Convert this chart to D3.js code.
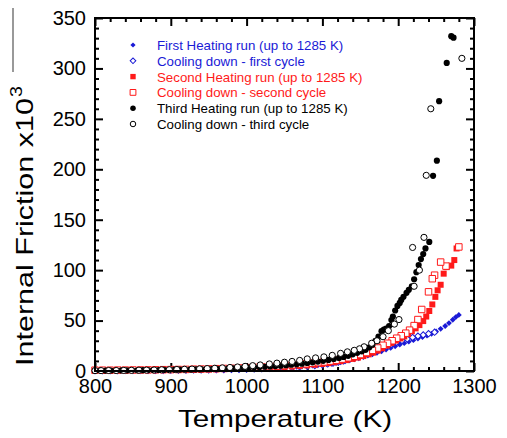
<!DOCTYPE html>
<html>
<head>
<meta charset="utf-8">
<script src="https://cdn.jsdelivr.net/npm/d3@7"></script>
<style>
  body { margin: 0; background: #fff; }
  svg { display: block; }
</style>
</head>
<body>
<svg id="chart" width="507" height="438"></svg>
<script>

// [temperature K, internal friction x10^3]
var heat1 = [[800,0.2],[807,0.3],[814,0.3],[821,0.4],[828,0.4],[835,0.5],[842,0.5],[849,0.6],[856,0.6],[863,0.7],[870,0.7],[877,0.8],[884,0.8],[891,0.9],[898,0.9],[905,1.0],[912,1.0],[919,1.1],[926,1.1],[933,1.2],[940,1.3],[947,1.3],[954,1.4],[961,1.5],[968,1.6],[975,1.7],[982,1.8],[989,1.9],[996,2.0],[1003,2.2],[1010,2.3],[1017,2.5],[1024,2.7],[1031,2.9],[1038,3.1],[1045,3.3],[1052,3.6],[1059,3.9],[1066,4.2],[1073,4.5],[1080,4.9],[1087,5.3],[1094,5.7],[1100,6.1],[1106,6.6],[1112,7.2],[1118,7.9],[1124,8.7],[1130,9.5],[1136,10.5],[1142,11.6],[1148,12.6],[1154,13.8],[1160,15.2],[1166,16.6],[1172,18.1],[1178,19.6],[1184,21.2],[1190,22.9],[1196,24.5],[1202,26.1],[1208,27.6],[1214,29.1],[1220,30.6],[1226,32.1],[1232,33.6],[1238,35.2],[1244,36.9],[1250,39.2],[1256,41.8],[1262,44.6],[1267,47.5],[1272,50.8],[1276,53.5],[1280,55.6]];

var cool1 = [[1248,38.5],[1240,37],[1233,35.8],[1226,34.6],[1219,33.3],[1212,31.8],[1205,30.2],[1198,28.4],[1191,26.5],[1184,24.4],[1177,22.3],[1170,20.2],[1163,18.2],[1156,16.3],[1149,14.5],[1142,12.9],[1135,11.4],[1128,10.1],[1121,8.9],[1114,7.9],[1107,7.0],[1100,6.2],[1090,5.4],[1080,4.8],[1070,4.2],[1060,3.7],[1050,3.3],[1040,2.9],[1030,2.6],[1020,2.3],[1010,2.1],[1000,1.9],[990,1.7],[980,1.5],[970,1.4],[960,1.3],[950,1.2],[940,1.1],[930,1.0],[920,0.9],[910,0.9],[900,0.8],[890,0.7],[880,0.7],[870,0.6],[860,0.6],[850,0.5],[840,0.5],[830,0.4],[820,0.4],[810,0.3],[800,0.3]];

var heat2 = [[800,0.8],[810,0.8],[820,0.9],[830,0.9],[840,1.0],[850,1.0],[860,1.1],[870,1.1],[880,1.2],[890,1.3],[900,1.3],[910,1.4],[920,1.5],[930,1.6],[940,1.7],[950,1.8],[960,1.9],[970,2.0],[980,2.2],[990,2.4],[1000,2.6],[1010,2.8],[1020,3.0],[1030,3.3],[1040,3.6],[1050,4.0],[1060,4.4],[1070,4.9],[1080,5.5],[1090,6.2],[1100,7.0],[1108,7.8],[1116,8.7],[1124,9.7],[1132,10.8],[1140,12.0],[1147,13.3],[1154,14.8],[1161,16.5],[1167,18.2],[1173,20.2],[1179,22.5],[1185,25.2],[1191,27.8],[1197,30.2],[1203,32.3],[1208,34.3],[1213,36.6],[1218,39.4],[1223,42.3],[1228,45.5],[1233,49.5],[1237,54],[1241,59.5],[1245,66],[1249,73.5],[1252,80],[1256,85.5],[1260,96.5],[1264,103],[1270,104.5],[1274,110],[1277,121.5]];

var cool2 = [[1280,123],[1263,104],[1256,108],[1248,95],[1245,91.5],[1240,78.5],[1231,61],[1226,51],[1221,45],[1215,40.5],[1210,37.5],[1204,35],[1198,32.5],[1192,30],[1186,27.5],[1180,25.5],[1173,22.8],[1166,20.5],[1158,18.3],[1150,16.3],[1142,14.6],[1134,13.1],[1126,11.8],[1118,10.7],[1110,9.8],[1102,9.0],[1094,8.3],[1086,7.7],[1078,7.1],[1070,6.6],[1060,6.0],[1050,5.4],[1040,4.9],[1030,4.4],[1020,4.0],[1010,3.6],[1000,3.3],[990,3.0],[980,2.7],[970,2.5],[960,2.3],[950,2.1],[940,1.9],[930,1.8],[920,1.6],[910,1.5],[900,1.4],[890,1.3],[880,1.2],[870,1.1],[860,1.0],[850,1.0],[840,0.9],[830,0.9],[820,0.8],[810,0.8],[800,0.8]];

var heat3 = [[800,0.3],[807,0.4],[814,0.4],[821,0.5],[828,0.5],[835,0.6],[842,0.6],[849,0.7],[856,0.7],[863,0.8],[870,0.9],[877,0.9],[884,1.0],[891,1.1],[898,1.2],[905,1.3],[912,1.4],[919,1.5],[926,1.6],[933,1.7],[940,1.8],[947,1.9],[954,2.0],[961,2.2],[968,2.3],[975,2.5],[982,2.7],[989,2.9],[996,3.1],[1003,3.3],[1010,3.6],[1017,3.9],[1024,4.2],[1031,4.5],[1038,4.9],[1045,5.3],[1052,5.7],[1059,6.2],[1066,6.7],[1073,7.3],[1080,7.9],[1087,8.6],[1094,9.3],[1101,10.1],[1108,11.0],[1115,12.0],[1122,13.0],[1128,14.0],[1134,15.0],[1140,16.5],[1146,18.0],[1152,19.5],[1157,21.0],[1162,23.5],[1166,26.0],[1170,30.0],[1174,34.0],[1178,39.5],[1181,41.0],[1184,42.0],[1188,44.5],[1191,50.5],[1193,54.0],[1196,60.0],[1199,64.5],[1202,67.5],[1204,70.5],[1207,73.5],[1211,77.5],[1214,80.5],[1218,84],[1221,91],[1224,98],[1227,105],[1230,111],[1233,116],[1236,121.5],[1241,128],[1246,193.5],[1251,208.5],[1254,267.5],[1264,305.5],[1270,332],[1273,330.5]];

var cool3 = [[1284,310],[1243,260],[1237,194],[1234,132.5],[1228,100],[1221,84],[1219,122.5],[1201,51],[1195,46.5],[1187,40],[1180,34],[1172,30],[1165,27.5],[1155,24],[1149,22],[1142,20.5],[1133,19],[1124,17.5],[1113,15.5],[1102,14],[1091,13],[1080,12],[1070,10.5],[1060,9.5],[1050,8.7],[1040,7.8],[1030,7.0],[1018,6.0],[1008,5.3],[998,4.6],[988,4.0],[978,3.5],[968,3.1],[958,2.7],[948,2.4],[938,2.1],[928,1.9],[918,1.7],[908,1.5],[898,1.3],[888,1.2],[878,1.0],[868,0.9],[858,0.8],[848,0.7],[838,0.6],[828,0.5],[818,0.5],[808,0.4],[800,0.4]];

var legendLabels = [
  "First Heating run (up to 1285 K)",
  "Cooling down - first cycle",
  "Second Heating run (up to 1285 K)",
  "Cooling down - second cycle",
  "Third Heating run (up to 1285 K)",
  "Cooling down - third cycle"
];

var xTicks = [800, 900, 1000, 1100, 1200, 1300];
var yTicks = [0, 50, 100, 150, 200, 250, 300, 350];

var blue = "#1a1ad6";
var red = "#ff1a1a";
var font = "Arial, 'Liberation Sans', sans-serif";

// diamonds are squares turned by 45 degrees
var series = [
  { data: heat1, shape: d3.symbolSquare, size: 17, rot: 45, color: blue, filled: true },
  { data: cool1, shape: d3.symbolSquare, size: 20, rot: 45, color: blue, filled: false },
  { data: heat2, shape: d3.symbolSquare, size: 36, rot: 0, color: red, filled: true },
  { data: cool2, shape: d3.symbolSquare, size: 42, rot: 0, color: red, filled: false },
  { data: heat3, shape: d3.symbolCircle, size: 30, rot: 0, color: "#000", filled: true },
  { data: cool3, shape: d3.symbolCircle, size: 30, rot: 0, color: "#000", filled: false }
];

var plotLeft = 95, plotRight = 474, plotTop = 18, plotBottom = 371;

var svg = d3.select("#chart");

var x = d3.scaleLinear().domain([800, 1300]).range([plotLeft, plotRight]);
var y = d3.scaleLinear().domain([0, 350]).range([plotBottom, plotTop]);

var minorX = d3.range(800, 1301, 20).filter(d => d % 100 != 0);
var minorY = d3.range(0, 351, 10).filter(d => d % 50 != 0);

function styleAxis(g) {
  g.select(".domain").remove();
  g.selectAll(".tick line").attr("stroke", "#000").attr("stroke-width", 2);
  g.selectAll(".tick text")
    .attr("fill", "#000")
    .style("font-family", font)
    .style("font-size", "20px");
}

// bottom
svg.append("g").attr("transform", `translate(0,${plotBottom})`)
  .call(d3.axisBottom(x).tickValues(xTicks).tickSize(-8).tickPadding(8).tickFormat(d3.format("d")))
  .call(styleAxis);
svg.append("g").attr("transform", `translate(0,${plotBottom})`)
  .call(d3.axisBottom(x).tickValues(minorX).tickSize(-4).tickFormat(""))
  .call(styleAxis);
// top
svg.append("g").attr("transform", `translate(0,${plotTop})`)
  .call(d3.axisTop(x).tickValues(xTicks).tickSize(-8).tickFormat(""))
  .call(styleAxis);
svg.append("g").attr("transform", `translate(0,${plotTop})`)
  .call(d3.axisTop(x).tickValues(minorX).tickSize(-4).tickFormat(""))
  .call(styleAxis);
// left
svg.append("g").attr("transform", `translate(${plotLeft},0)`)
  .call(d3.axisLeft(y).tickValues(yTicks).tickSize(-8).tickPadding(9))
  .call(styleAxis);
svg.append("g").attr("transform", `translate(${plotLeft},0)`)
  .call(d3.axisLeft(y).tickValues(minorY).tickSize(-4).tickFormat(""))
  .call(styleAxis);
// right
svg.append("g").attr("transform", `translate(${plotRight},0)`)
  .call(d3.axisRight(y).tickValues(yTicks).tickSize(-8).tickFormat(""))
  .call(styleAxis);
svg.append("g").attr("transform", `translate(${plotRight},0)`)
  .call(d3.axisRight(y).tickValues(minorY).tickSize(-4).tickFormat(""))
  .call(styleAxis);

// data
series.forEach(s => {
  svg.append("g")
    .selectAll("path")
    .data(s.data)
    .join("path")
    .attr("transform", d => `translate(${x(d[0])},${y(d[1])}) rotate(${s.rot})`)
    .attr("d", d3.symbol().type(s.shape).size(s.size))
    .attr("fill", s.filled ? s.color : "#fff")
    .attr("stroke", s.color)
    .attr("stroke-width", s.filled ? 0 : 1);
});

// frame
svg.append("rect")
  .attr("x", plotLeft).attr("y", plotTop)
  .attr("width", plotRight - plotLeft).attr("height", plotBottom - plotTop)
  .attr("fill", "none")
  .attr("stroke", "#000")
  .attr("stroke-width", 2);

// legend
var legend = svg.append("g").attr("transform", "translate(133,45)");
legendLabels.forEach((label, i) => {
  var s = series[i];
  var row = legend.append("g").attr("transform", `translate(0,${i * 15.8})`);
  row.append("path")
    .attr("transform", `rotate(${s.rot})`)
    .attr("d", d3.symbol().type(s.shape).size(s.size * 0.8))
    .attr("fill", s.filled ? s.color : "#fff")
    .attr("stroke", s.color)
    .attr("stroke-width", s.filled ? 0 : 1);
  row.append("text")
    .text(label)
    .attr("x", 24)
    .attr("y", 5)
    .attr("fill", s.color)
    .style("font-family", font)
    .style("font-size", "13.3px");
});

// axis titles (a bit wider than plain Arial, like the source figure)
svg.append("text")
  .text("Temperature (K)")
  .attr("x", 178)
  .attr("y", 427)
  .attr("textLength", 214)
  .attr("lengthAdjust", "spacingAndGlyphs")
  .style("font-family", font)
  .style("font-size", "24px");

svg.append("text")
  .text("Internal Friction x10")
  .attr("transform", "translate(33,366) rotate(-90)")
  .attr("textLength", 268)
  .attr("lengthAdjust", "spacingAndGlyphs")
  .style("font-family", font)
  .style("font-size", "24px");

svg.append("text")
  .text("3")
  .attr("transform", "translate(22,97) rotate(-90)")
  .attr("textLength", 11)
  .attr("lengthAdjust", "spacingAndGlyphs")
  .style("font-family", font)
  .style("font-size", "17px");

svg.append("line")
  .attr("x1", 13).attr("x2", 13)
  .attr("y1", 8).attr("y2", 72)
  .attr("stroke", "#777")
  .attr("stroke-width", 1.5);

</script>
</body>
</html>
